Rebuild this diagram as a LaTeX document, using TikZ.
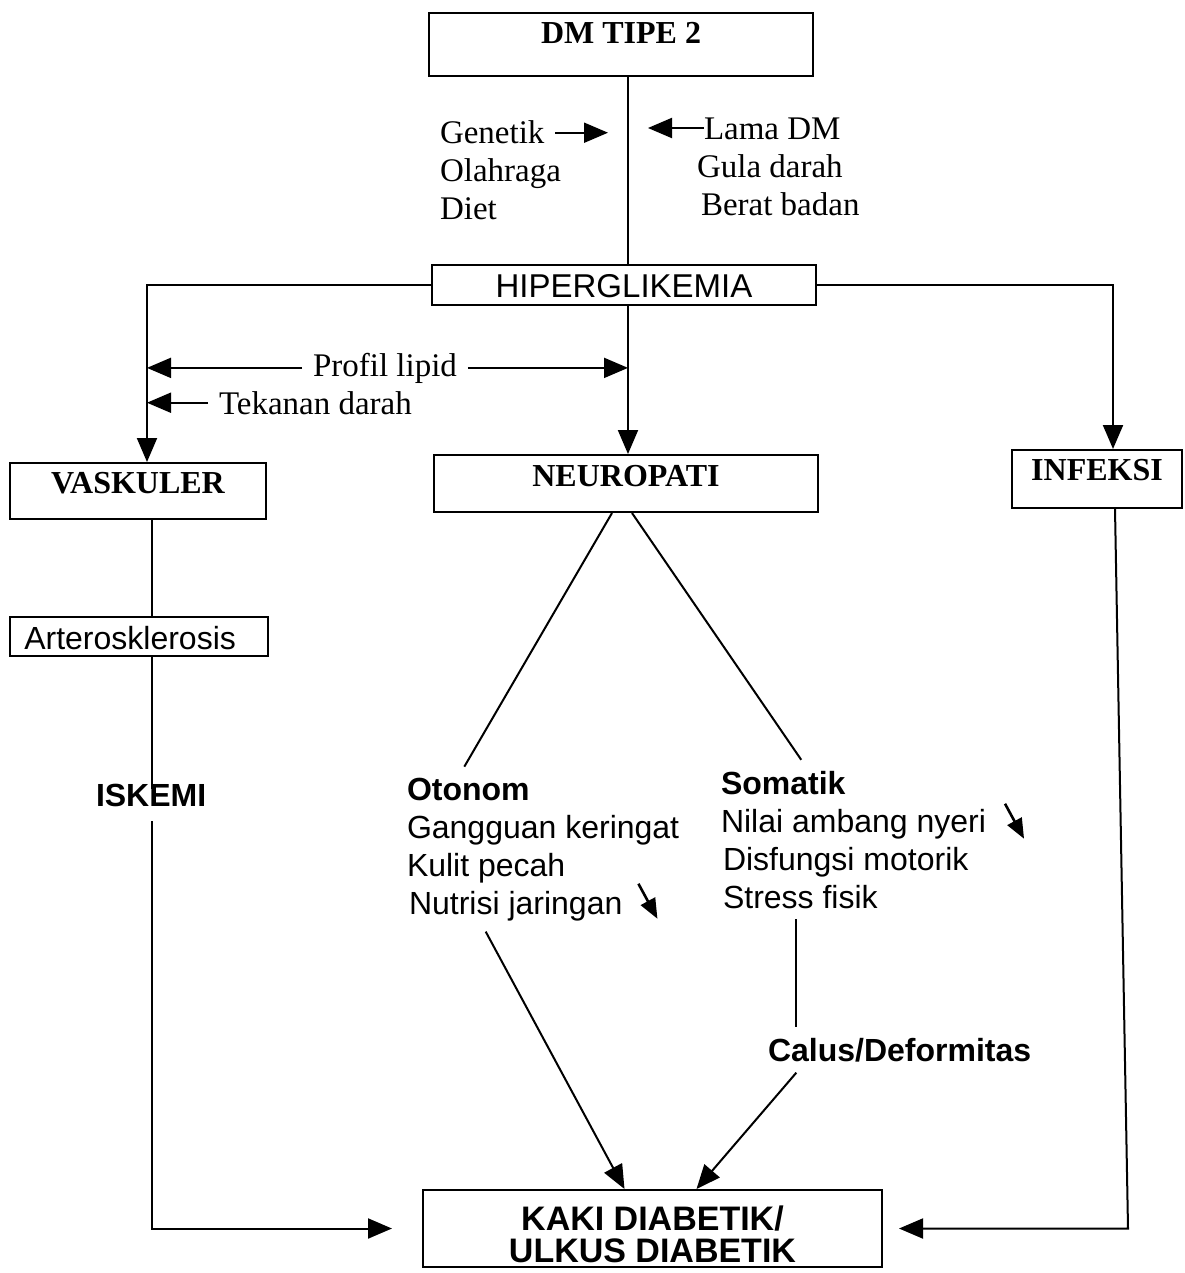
\documentclass[tikz,border=0pt]{standalone}
\usepackage{fontspec}
\setmainfont{Liberation Serif}
\setsansfont{Liberation Sans}
\usetikzlibrary{arrows.meta}
\begin{document}
\begin{tikzpicture}[x=0.5pt,y=-0.5pt,
  line width=1pt,
  arr/.style={-{Triangle[length=12pt,width=10pt]}},
  sarr/.style={line width=1.3pt,-{Triangle[length=10pt,width=8pt]}},
  box/.style={draw,line width=1pt,inner sep=0pt,align=center},
  sbold/.style={font=\bfseries\fontsize{16}{19}\selectfont},
  serif/.style={font=\fontsize{16.5}{19}\selectfont,anchor=base west,inner sep=5pt,xshift=-5pt},
  sans/.style={font=\sffamily\fontsize{16}{19}\selectfont,anchor=base west,inner sep=5pt,xshift=-5pt},
  sansb/.style={font=\sffamily\bfseries\fontsize{16}{19}\selectfont,anchor=base west,inner sep=5pt,xshift=-5pt}]
\useasboundingbox (0,0) rectangle (1184,1273);

% reference x positions of the main lines
\coordinate (cx) at (628,0);
\coordinate (vx) at (147,0);
\coordinate (ix) at (1113,0);
\coordinate (ax) at (152,0);
\coordinate (ix2) at (1115,0);
\coordinate (ix3) at (1128,0);

% boxes
\node[box,sbold,minimum width=192pt,text height=15.5pt,text depth=16pt] (dm) at (621,44.5) {DM TIPE 2};
\node[box,font=\sffamily\fontsize{16.5}{19}\selectfont,minimum width=192pt,text height=16pt,text depth=4pt] (hiper) at (624,285) {HIPERGLIKEMIA};
\node[box,sbold,minimum width=128pt,text height=15pt,text depth=13pt] (vask) at (138,491) {VASKULER};
\node[box,sbold,minimum width=192pt,text height=15.5pt,text depth=13pt] (neuro) at (626,483.5) {NEUROPATI};
\node[box,sbold,minimum width=85pt,text height=15pt,text depth=14pt] (inf) at (1097,479) {INFEKSI};
\node[box,font=\sffamily\fontsize{16}{19}\selectfont,minimum width=129pt,text height=16pt,text depth=3.5pt] (arter) at (139,636.5) {Arterosklerosis~~};
\node[box,minimum width=229.5pt,minimum height=38.5pt] (kaki) at (652.5,1228.5) {};
\node[font=\sffamily\bfseries\fontsize{17}{16}\selectfont,align=center,inner sep=0pt] (kakit) at ([yshift=-3pt]kaki.center) {KAKI DIABETIK/\\ULKUS DIABETIK};

% texts
\node[serif] (gen) at (439,144) {Genetik};
\node[serif] (olah) at (439,182) {Olahraga};
\node[serif] (diet) at (439,220) {Diet};
\node[serif] (lama) at (703,140) {Lama DM};
\node[serif] (gula) at (696,178) {Gula darah};
\node[serif] (berat) at (700,216) {Berat badan};
\node[serif] (prof) at (312,376) {Profil lipid};
\node[serif] (tek) at (218,414) {Tekanan darah};

\node[sansb] (isk) at (95,806) {ISKEMI};
\node[sansb] (oto) at (406,800) {Otonom};
\node[sans] (gang) at (406,838) {Gangguan keringat};
\node[sans] (kulit) at (406,876) {Kulit pecah};
\node[sans] (nutri) at (408,914) {Nutrisi jaringan};
\node[sansb] (som) at (720,794) {Somatik};
\node[sans] (nyeri) at (720,832) {Nilai ambang nyeri};
\node[sans] (dis) at (722,870) {Disfungsi motorik};
\node[sans] (stress) at (722,908) {Stress fisik};
\node[sansb] (calus) at (767,1061) {Calus/Deformitas};

% connectors
\draw (dm.south -| cx) -- (hiper.north -| cx);
\draw[arr] (gen.east) -- ([xshift=-10pt]gen.east -| cx);
\coordinate (lt) at ([shift={(5.5pt,6pt)}]lama.base west);
\draw[arr] (lt) -- ([xshift=10pt]lt -| cx);
\draw[arr] (hiper.west) -- (hiper.west -| vx) -- (vask.north -| vx);
\draw[arr] (hiper.east) -- (hiper.east -| ix) -- (inf.north -| ix);
\draw[arr] (hiper.south -| cx) -- (neuro.north -| cx);
\draw[arr] (prof.west) -- (prof.west -| vx);
\draw[arr] (prof.east) -- (prof.east -| cx);
\draw[arr] (tek.west) -- (tek.west -| vx);

\draw (vask.south -| ax) -- (arter.north -| ax);
\draw (arter.south -| ax) -- ([yshift=-8pt]isk.north -| ax);
\draw[arr] ([yshift=-2pt]isk.south -| ax) |- ([xshift=-15pt]kaki.west);

\draw ([xshift=-7pt]neuro.south) -- ([xshift=-2pt]oto.north);
\draw ([xshift=3pt]neuro.south) -- ([xshift=9pt]som.north);
\draw[arr] ([xshift=-15pt]nutri.south) -- ([xshift=-14pt]kaki.north);
\draw ([xshift=-2pt]stress.south) -- ([xshift=-2pt]stress.south |- calus.north);
\draw[arr] ([xshift=-2pt]stress.south |- calus.south) -- ([xshift=22pt]kaki.north);
\draw[arr] (inf.south -| ix2) -- (ix3 |- kaki.east) -- ([xshift=8pt]kaki.east);

% small "decrease" arrows
\draw[sarr] ([shift={(2.5pt,11pt)}]nutri.east) -- ([shift={(12pt,-6.5pt)}]nutri.east);
\draw[sarr] ([shift={(4pt,10pt)}]nyeri.east) -- ([shift={(13.5pt,-7.5pt)}]nyeri.east);
\end{tikzpicture}
\end{document}
